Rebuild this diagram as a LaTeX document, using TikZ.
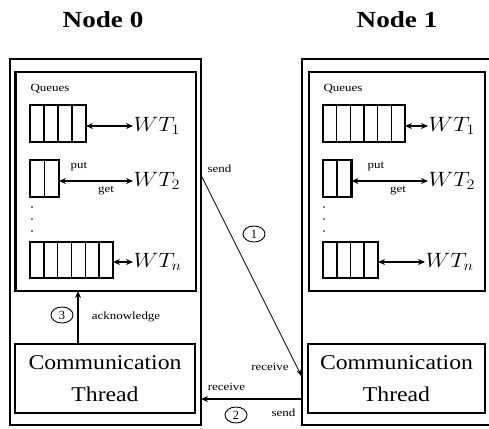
\documentclass[tikz,border=0pt]{standalone}
\usepackage{fontspec}
\setmainfont{Liberation Serif}
\usepackage{graphicx}
\usetikzlibrary{arrows.meta,shapes.geometric,calc}

% horizontally widened text
\newcommand\hstretch[2]{\scalebox{#1}[1]{#2}}

\begin{document}
\begin{tikzpicture}[x=1pt,y=-1pt,
  frame/.style={draw, line width=2.6pt, inner sep=0pt, outer sep=0pt, anchor=north west},
  queue/.style={draw, line width=2.2pt, inner sep=0pt, outer sep=0pt, anchor=north west},
  divider/.style={line width=1.6pt},
  wt/.style={anchor=west, inner sep=0.5pt, font=\fontsize{22pt}{24pt}\selectfont},
  small/.style={inner sep=0pt, font=\fontsize{11pt}{12pt}\selectfont},
  title/.style={inner sep=0pt, font=\fontsize{23pt}{25pt}\selectfont\bfseries},
  numcirc/.style={ellipse, draw, line width=0.9pt, minimum width=22pt, minimum height=16pt,
    inner sep=0pt, font=\fontsize{12.5pt}{13pt}\selectfont},
  tip/.tip={Stealth[length=7pt, width=6pt]},
  biarrow/.style={line width=1.7pt, tip-tip},
  onearrow/.style={line width=1.7pt, -tip},
  msgarrow/.style={line width=0.7pt, -{Stealth[length=8pt, width=4pt]}},
  commtext/.style={align=center, font=\fontsize{21pt}{32pt}\selectfont}]
\useasboundingbox (0,0) rectangle (489,428);

% ---------- titles ----------
\node[title] (title0) at (103,20) {\hstretch{1.18}{Node 0}};
\node[title] (title1) at (397,20) {\hstretch{1.18}{Node 1}};

% ---------- node frames ----------
\node[frame, minimum width=191pt, minimum height=366pt] (outer0) at (10,59) {};
\node[frame, minimum width=188.5pt, minimum height=366pt] (outer1) at (302,59) {};

\node[frame, minimum width=180.5pt, minimum height=219pt] (inner0) at (15.5,72) {};
\node[frame, minimum width=176pt, minimum height=219pt] (inner1) at (309,72) {};

\node[frame, minimum width=180pt, minimum height=69pt, commtext] (comm0) at (15,344)
  {\hstretch{1.13}{Communication}\\\hstretch{1.13}{Thread}};
\node[frame, minimum width=177pt, minimum height=69pt, commtext] (comm1) at (308,344)
  {\hstretch{1.13}{Communication}\\\hstretch{1.13}{Thread}};

% ---------- queue captions ----------
\node[small] (qcap0) at (50,89) {\hstretch{1.18}{Queues}};
\node[small] (qcap1) at (343,89) {\hstretch{1.18}{Queues}};

% ---------- queues ----------
\node[queue, minimum width=56pt, minimum height=37pt] (q01) at (30,105) {};
\node[queue, minimum width=29pt, minimum height=37pt] (q02) at (30,160) {};
\node[queue, minimum width=83pt, minimum height=36pt] (q0n) at (30,242) {};
\node[queue, minimum width=82pt, minimum height=37pt] (q11) at (323,105) {};
\node[queue, minimum width=28.5pt, minimum height=37pt] (q12) at (323,160) {};
\node[queue, minimum width=55pt, minimum height=36pt] (q1n) at (323,242) {};

\foreach \q/\n in {q01/4, q02/2, q0n/6, q11/6, q12/2, q1n/4}{
  \pgfmathtruncatemacro\m{\n-1}
  \foreach \i in {1,...,\m}
    \draw[divider] ($(\q.north west)!\i/\n!(\q.north east)$) --
                   ($(\q.south west)!\i/\n!(\q.south east)$);
}

% vertical ellipsis between the queues
\foreach \yy in {207,219,231}{
  \fill (32,\yy) circle (0.8);
  \fill (324,\yy) circle (0.8);
}

% ---------- worker threads ----------
\node[wt] (wt01) at (133,126) {\hstretch{1.12}{$WT_1$}};
\node[wt] (wt02) at (133,181) {\hstretch{1.12}{$WT_2$}};
\node[wt] (wt0n) at (133,262) {\hstretch{1.12}{$WT_n$}};
\node[wt] (wt11) at (428,126) {\hstretch{1.12}{$WT_1$}};
\node[wt] (wt12) at (428,181) {\hstretch{1.12}{$WT_2$}};
\node[wt] (wt1n) at (425,262) {\hstretch{1.12}{$WT_n$}};

\draw[biarrow] (q01.east |- wt01.west) -- (wt01.west);
\draw[biarrow] (q02.east |- wt02.west) -- (wt02.west);
\draw[biarrow] (q0n.east |- wt0n.west) -- (wt0n.west);
\draw[biarrow] (q11.east |- wt11.west) -- (wt11.west);
\draw[biarrow] (q12.east |- wt12.west) -- (wt12.west);
\draw[biarrow] (q1n.east |- wt1n.west) -- (wt1n.west);

\node[small] (put0) at (79,167) {\hstretch{1.18}{put}};
\node[small] (get0) at (106,191) {\hstretch{1.18}{get}};
\node[small] (put1) at (376,167) {\hstretch{1.18}{put}};
\node[small] (get1) at (398,191) {\hstretch{1.18}{get}};

% ---------- acknowledge ----------
\coordinate (ackfoot) at ($(comm0.north west)!0.35!(comm0.north east)$);
\draw[onearrow] (ackfoot) -- (ackfoot |- inner0.south);
\node[numcirc] (c3) at (62,315) {3};
\node[small] (ack) at (126,317) {\hstretch{1.18}{acknowledge}};

% ---------- message from node 0 to node 1 ----------
\coordinate (sendfrom) at (outer0.east |- 0,175);
\coordinate (sendto) at (outer1.west |- 0,377);
\draw[msgarrow] (sendfrom) -- (sendto);
\node[small] (send0) at (219.5,169) {\hstretch{1.18}{send}};
\node[numcirc] (c1) at (254,234) {1};
\node[small] (recv1) at (270,367) {\hstretch{1.18}{receive}};

% ---------- reply from node 1 to node 0 ----------
\coordinate (replyfrom) at (outer1.west |- 0,399);
\coordinate (replyto) at (outer0.east |- 0,399);
\draw[onearrow] (replyfrom) -- (replyto);
\node[small] (recv0) at (226.5,387) {\hstretch{1.18}{receive}};
\node[numcirc] (c2) at (236,415) {2};
\node[small] (send1) at (283.5,413) {\hstretch{1.18}{send}};

\end{tikzpicture}
\end{document}
